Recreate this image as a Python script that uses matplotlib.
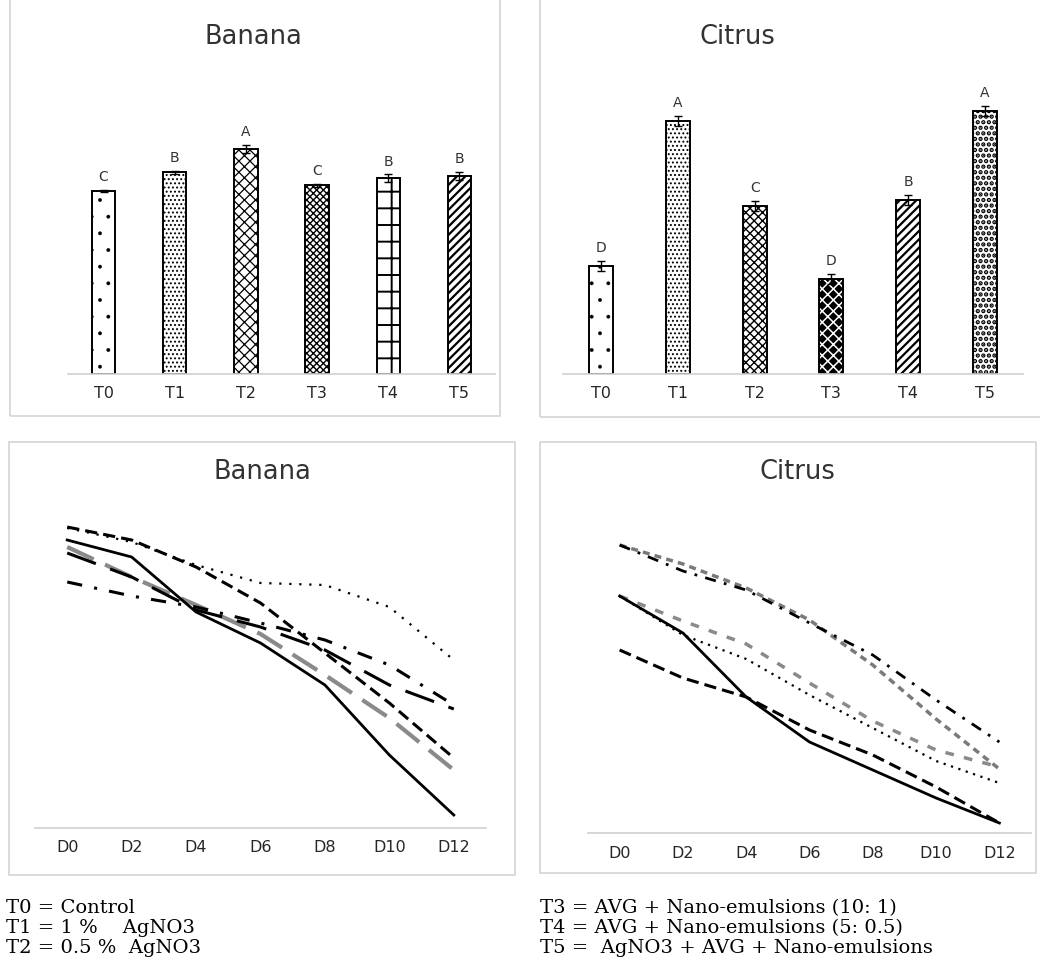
import matplotlib
matplotlib.use("Agg")
import matplotlib.pyplot as plt
from matplotlib.patches import Rectangle

# ---- data ----
treatments = ["T0", "T1", "T2", "T3", "T4", "T5"]
days = ["D0", "D2", "D4", "D6", "D8", "D10", "D12"]

banana_bar = [18.3, 20.2, 22.5, 18.9, 19.6, 19.8]
banana_err = [0.1, 0.15, 0.4, 0.15, 0.35, 0.4]
banana_letters = ["C", "B", "A", "C", "B", "B"]

citrus_bar = [10.8, 25.3, 16.8, 9.5, 17.4, 26.3]
citrus_err = [0.5, 0.5, 0.5, 0.5, 0.5, 0.5]
citrus_letters = ["D", "A", "C", "D", "B", "A"]

banana_t0 = [28.8, 27.1, 21.6, 18.5, 14.3, 7.3, 1.3]
banana_t1 = [30.1, 28.8, 26.1, 22.5, 17.5, 12.5, 7.0]
banana_t2 = [30.0, 28.6, 26.3, 24.5, 24.3, 22.1, 16.8]
banana_t3 = [28.1, 25.1, 22.3, 19.4, 15.3, 11.0, 5.8]
banana_t4 = [27.5, 25.1, 21.8, 20.1, 17.8, 14.3, 11.9]
banana_t5 = [24.6, 23.2, 22.1, 20.5, 18.8, 16.3, 12.3]

citrus_t0 = [23.7, 20.0, 13.6, 9.1, 6.3, 3.5, 1.0]
citrus_t1 = [18.3, 15.5, 13.6, 10.3, 7.8, 4.6, 1.0]
citrus_t2 = [23.7, 19.8, 17.4, 13.8, 10.5, 7.2, 5.0]
citrus_t3 = [23.7, 21.2, 18.9, 15.0, 11.2, 8.3, 6.6]
citrus_t4 = [28.8, 26.9, 24.5, 21.3, 16.8, 11.4, 6.4]
citrus_t5 = [28.8, 26.2, 24.3, 21.0, 17.8, 13.3, 9.1]

legend_left = ["T0 = Control", "T1 = 1 %    AgNO3", "T2 = 0.5 %  AgNO3"]
legend_right = ["T3 = AVG + Nano-emulsions (10: 1)",
                "T4 = AVG + Nano-emulsions (5: 0.5)",
                "T5 =  AgNO3 + AVG + Nano-emulsions"]

W, H = 1040, 966
fig = plt.figure(figsize=(W / 100, H / 100), dpi=100)
plt.rcParams["hatch.linewidth"] = 0.9


def box(x0, y0, x1, y1):
    # pixel box (top-left origin) -> figure fraction rect
    return [x0 / W, 1 - y1 / H, (x1 - x0) / W, (y1 - y0) / H]


def frame(x0, y0, x1, y1):
    fig.patches.append(Rectangle((x0 / W, 1 - y1 / H), (x1 - x0) / W, (y1 - y0) / H,
                                 transform=fig.transFigure, fill=False,
                                 edgecolor="#d4d4d4", linewidth=1.2))


def style_axes(ax, labels):
    for s in ["top", "right", "left"]:
        ax.spines[s].set_visible(False)
    ax.spines["bottom"].set_color("#d0d0d0")
    ax.spines["bottom"].set_linewidth(1.2)
    ax.set_yticks([])
    ax.set_xticks(range(len(labels)))
    ax.set_xticklabels(labels, fontsize=11.5, color="#262626")
    ax.tick_params(axis="x", length=0, pad=9)
    ax.set_xlim(-0.5, len(labels) - 0.5)
    ax.patch.set_alpha(0)


# panel frames
frame(10, -2, 500, 416)
frame(540, -2, 1045, 417)
frame(9, 442, 515, 875)
frame(540, 442, 1036, 873)

# ---- bar charts ----
def bar_panel(rect, values, errs, letters, hatches, hatch_w, dark, width, title, title_x):
    ax = fig.add_axes(rect)
    x = list(range(len(values)))
    # dark bars: black face with white hatch underneath the outline
    for i in dark:
        under = ax.bar(x[i], values[i], width=width, color="black",
                       edgecolor="white", linewidth=0, hatch="xxx")
        if hasattr(under[0], "set_hatch_linewidth"):
            under[0].set_hatch_linewidth(1.1)
    bars = ax.bar(x, values, width=width,
                  color=["none" if i in dark else "white" for i in x],
                  edgecolor="black", linewidth=1.4, yerr=errs, capsize=3,
                  error_kw=dict(ecolor="black", elinewidth=1, capthick=1))
    for b, h, hw, i in zip(bars, hatches, hatch_w, x):
        if i in dark:
            continue
        b.set_hatch(h)
        if hasattr(b, "set_hatch_linewidth"):
            b.set_hatch_linewidth(hw)
    for i, (v, e, l) in enumerate(zip(values, errs, letters)):
        ax.annotate(l, (i, v + e), xytext=(0, 4), textcoords="offset points",
                    ha="center", va="bottom", fontsize=10, color="#333333")
    ax.set_ylim(0, 30)
    style_axes(ax, treatments)
    fig.text(title_x / W, 1 - 37 / H, title, ha="center", va="center",
             fontsize=18.5, color="#333333")
    return ax


bar_panel(box(68, 74, 495, 374), banana_bar, banana_err, banana_letters,
          [".", "....", "xxx", "xxxxx", "+", "////"],
          [0.3, 0.9, 0.9, 1.0, 1.4, 1.6], [],
          0.33, "Banana", 253)
bar_panel(box(563, 74, 1023, 374), citrus_bar, citrus_err, citrus_letters,
          [".", "....", "xxxx", "xx", "////", "..."],
          [0.3, 0.9, 1.0, 1.0, 1.6, 2.2], [3],
          0.31, "Citrus", 737)

# ---- line charts ----
ax3 = fig.add_axes(box(35, 478, 486, 828))
x = range(len(days))
ax3.plot(x, banana_t3, color="#8a8a8a", lw=3, linestyle=(0, (7, 3)))
ax3.plot(x, banana_t2, color="black", lw=1.6, linestyle=(0, (1, 3.5)))
ax3.plot(x, banana_t1, color="black", lw=2.2, linestyle=(0, (4, 2)))
ax3.plot(x, banana_t4, color="black", lw=2.2, linestyle=(0, (10, 5)))
ax3.plot(x, banana_t5, color="black", lw=2.2, linestyle=(0, (5, 4, 1, 4)))
ax3.plot(x, banana_t0, color="black", lw=2)
ax3.set_ylim(0, 35)
style_axes(ax3, days)
fig.text(262 / W, 1 - 472 / H, "Banana", ha="center", va="center",
         fontsize=18.5, color="#333333")

ax4 = fig.add_axes(box(588, 483, 1031, 833))
ax4.plot(x, citrus_t4, color="#7a7a7a", lw=2.5, linestyle=(0, (2, 1.5)))
ax4.plot(x, citrus_t5, color="black", lw=2, linestyle=(0, (4, 3, 1, 3)))
ax4.plot(x, citrus_t3, color="#8a8a8a", lw=2.5, linestyle=(0, (2.5, 3)))
ax4.plot(x, citrus_t2, color="black", lw=1.6, linestyle=(0, (1, 2.5)))
ax4.plot(x, citrus_t1, color="black", lw=2.2, linestyle=(0, (4, 2)))
ax4.plot(x, citrus_t0, color="black", lw=2)
ax4.set_ylim(0, 35)
style_axes(ax4, days)
fig.text(797 / W, 1 - 472 / H, "Citrus", ha="center", va="center",
         fontsize=18.5, color="#333333")

# ---- treatment key ----
for i, (a, b) in enumerate(zip(legend_left, legend_right)):
    y = 1 - (908 + 20 * i) / H
    fig.text(6 / W, y, a, ha="left", va="center", family="DejaVu Serif", fontsize=14)
    fig.text(540 / W, y, b, ha="left", va="center", family="DejaVu Serif", fontsize=14)

plt.savefig("out.png", dpi=100)
